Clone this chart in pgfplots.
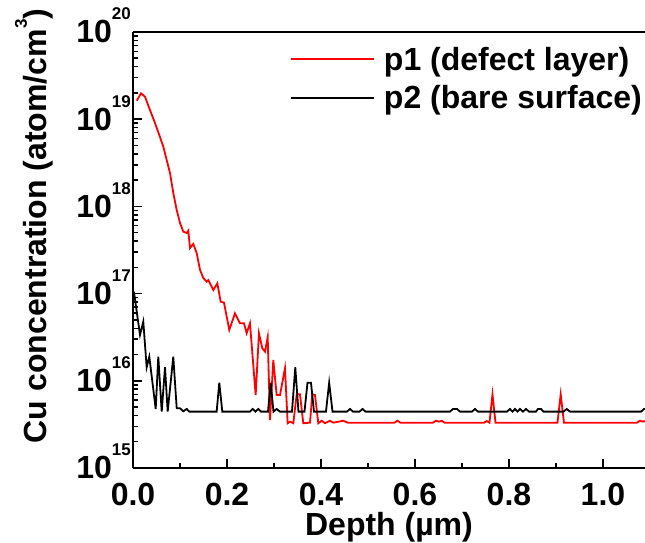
\documentclass[border=0pt]{standalone}
\usepackage{fontspec}
\setmainfont{Liberation Sans}
\usepackage{pgfplots}
\pgfplotsset{compat=1.18}
\pgfplotsset{legend image code/.code={\draw[#1] (0bp,0bp) -- (83bp,0bp); \path (89bp,0bp);}}
\newcommand{\sups}[1]{\raisebox{23bp}[0pt][0pt]{\fontsize{17bp}{17bp}\selectfont #1}}
\begin{document}
\begin{tikzpicture}
\begin{axis}[
  name=ax,
  scale only axis,
  width=512bp, height=436bp,
  xmin=0, xmax=1.0894,
  ymode=log, ymin=1e15, ymax=1e20,
  axis x line*=box, axis y line*=left,
  tick pos=left,
  tick align=inside,
  axis line style={line width=1.7bp, black},
  tick style={line width=1.5bp, black},
  major tick length=9bp, minor tick length=5bp,
  xtick={0,0.2,0.4,0.6,0.8,1.0},
  xticklabels={0.0,0.2,0.4,0.6,0.8,1.0},
  minor x tick num=1,
  ytick={1e15,1e16,1e17,1e18,1e19,1e20},
  yticklabels={10\sups{15},10\sups{16},10\sups{17},10\sups{18},10\sups{19},10\sups{20}},
  tick label style={font=\fontsize{32bp}{38bp}\selectfont\bfseries},
  xticklabel style={inner sep=0pt, yshift=-15bp},
  yticklabel style={inner sep=0pt, xshift=-2bp},
  label style={font=\fontsize{32bp}{38bp}\selectfont\bfseries},
  xlabel={Depth (µm)},
  xlabel style={at={(axis description cs:0.5,0)}, anchor=base, yshift=-68bp, inner sep=0pt},
  ylabel={Cu concentration (atom/cm\raisebox{20bp}[0pt][0pt]{\fontsize{17bp}{17bp}\selectfont 3})},
  ylabel style={at={(axis description cs:-0.1547,0.555)}, anchor=south, inner sep=0pt},
  legend style={at={(0.3066,0.982)}, anchor=north west, draw=none, fill=none, inner sep=0pt,
    font=\fontsize{32bp}{38bp}\selectfont\bfseries, nodes={inner xsep=3bp, inner ysep=7bp}},
  legend cell align=left,
]
\addplot[red, line width=1.8bp] table {
x y
0.008 1.63e19
0.017 1.98e19
0.0255 1.81e19
0.036 1.28e19
0.0468 9.04e18
0.0574 6.25e18
0.0645 4.84e18
0.0717 3.40e18
0.0787 2.42e18
0.0857 1.43e18
0.093 9.10e17
0.100 6.46e17
0.107 5.13e17
0.1143 4.95e17
0.1177 5.26e17
0.1213 3.33e17
0.1283 3.71e17
0.1355 2.92e17
0.1426 1.87e17
0.1496 1.51e17
0.1568 1.37e17
0.1602 1.43e17
0.1709 1.10e17
0.1794 1.31e17
0.1866 8.07e16
0.1936 7.87e16
0.2049 3.83e16
0.217 5.94e16
0.2277 4.56e16
0.2362 4.56e16
0.2419 3.51e16
0.2489 4.56e16
0.261 6.87e15
0.268 3.51e16
0.2751 2.36e16
0.2809 2.16e16
0.2866 3.16e16
0.2915 3.55e15
0.2985 1.73e16
0.3057 6.87e15
0.3128 6.87e15
0.3234 1.39e16
0.3291 3.26e15
0.334 3.40e15
0.3411 3.26e15
0.3483 7.00e15
0.3553 7.00e15
0.3623 3.26e15
0.3766 3.31e15
0.3815 7.00e15
0.3872 6.87e15
0.3943 3.26e15
0.4015 3.48e15
0.4085 3.26e15
0.4191 3.48e15
0.4262 3.31e15
0.4474 3.48e15
0.457 3.31e15
0.5564 3.31e15
0.5628 3.48e15
0.5691 3.31e15
0.6383 3.31e15
0.6447 3.48e15
0.6511 3.40e15
0.6568 3.48e15
0.6628 3.31e15
0.7468 3.31e15
0.7526 3.45e15
0.7585 3.31e15
0.7649 7.00e15
0.7713 3.31e15
0.9032 3.31e15
0.91 7.00e15
0.917 3.31e15
1.0723 3.31e15
1.0787 3.48e15
1.085 3.40e15
1.0915 3.48e15
};
\addlegendentry{p1 (defect layer)}
\addplot[black, line width=1.8bp] table {
x y
0.002 1.05e17
0.0149 3.35e16
0.0219 4.76e16
0.0291 1.43e16
0.0347 1.89e16
0.0483 4.75e15
0.0538 1.89e16
0.0611 4.43e15
0.0681 1.43e16
0.0738 4.43e15
0.0857 1.89e16
0.093 4.84e15
0.100 4.84e15
0.107 4.47e15
0.1143 4.75e15
0.1198 4.43e15
0.178 4.43e15
0.1836 9.51e15
0.190 4.43e15
0.2489 4.43e15
0.2547 4.75e15
0.2606 4.43e15
0.2666 4.75e15
0.2723 4.43e15
0.2872 4.43e15
0.293 9.51e15
0.2989 4.43e15
0.3057 4.75e15
0.3128 4.43e15
0.3383 4.43e15
0.3453 1.43e16
0.3521 4.43e15
0.3649 4.43e15
0.3713 9.51e15
0.3787 9.51e15
0.3851 4.43e15
0.4106 4.43e15
0.4174 9.51e15
0.4245 4.43e15
0.4553 4.43e15
0.4617 4.75e15
0.4681 4.43e15
0.4819 4.43e15
0.4883 4.75e15
0.4947 4.43e15
0.6745 4.43e15
0.6809 4.75e15
0.6894 4.75e15
0.6957 4.43e15
0.7213 4.43e15
0.7277 4.75e15
0.734 4.43e15
0.7957 4.43e15
0.8021 4.75e15
0.8074 4.43e15
0.8128 4.75e15
0.8181 4.43e15
0.8234 4.75e15
0.8298 4.43e15
0.8362 4.75e15
0.8426 4.43e15
0.8574 4.43e15
0.8617 4.75e15
0.8681 4.75e15
0.8734 4.43e15
0.916 4.43e15
0.9228 4.75e15
0.9298 4.43e15
1.081 4.43e15
1.0872 4.75e15
1.10 4.75e15
};
\addlegendentry{p2 (bare surface)}
\end{axis}
\pgfresetboundingbox
\path ([xshift=-133bp,yshift=-75bp]ax.south west) rectangle ([yshift=32bp]ax.north east);
\end{tikzpicture}
\end{document}
